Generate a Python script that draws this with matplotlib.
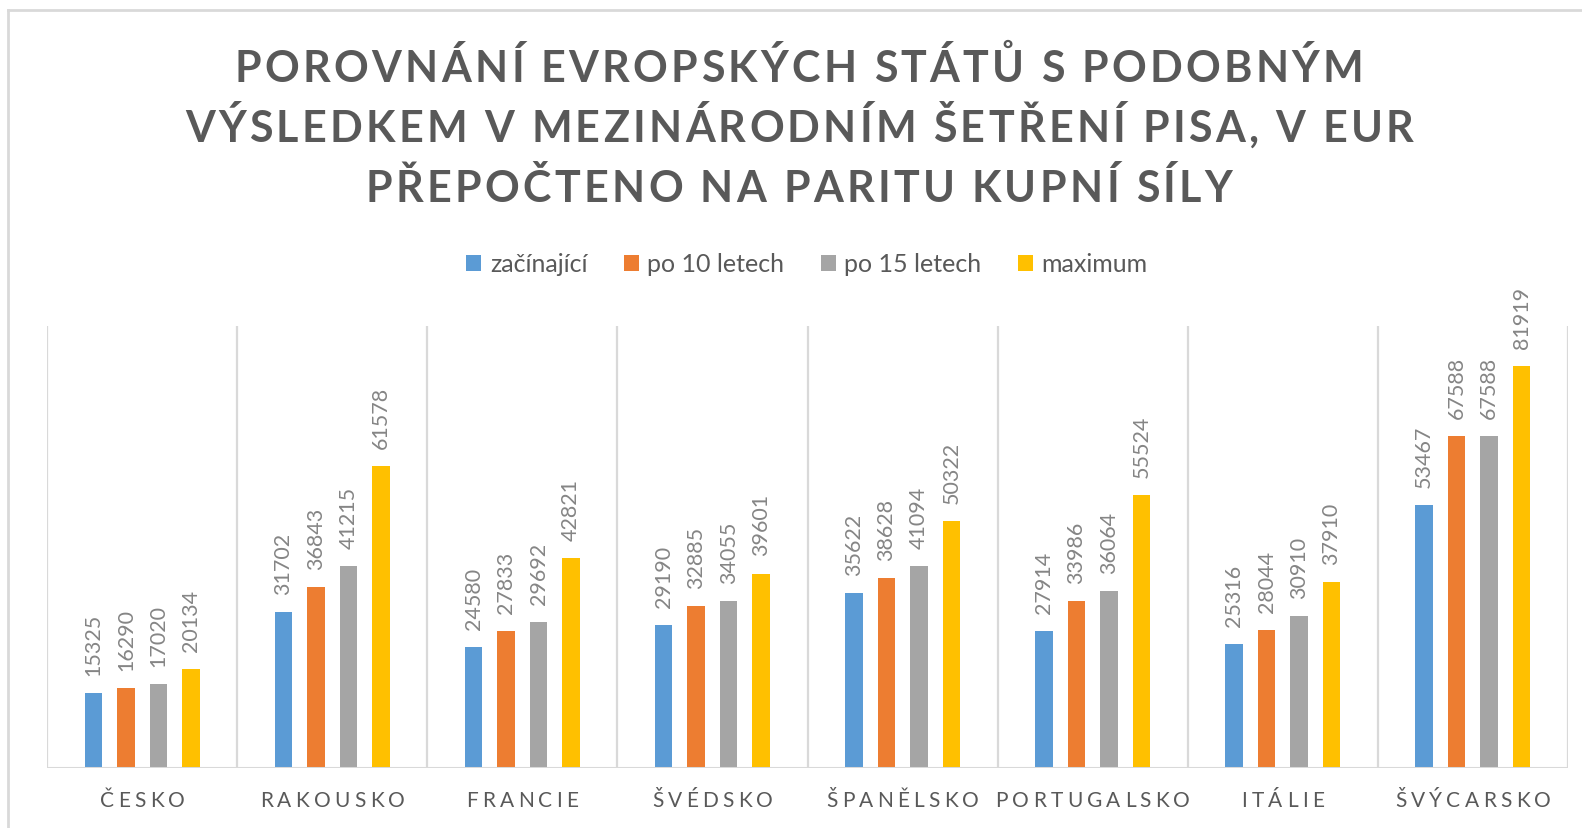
import numpy as np
import matplotlib
matplotlib.use('Agg')
import matplotlib.pyplot as plt
from matplotlib.patches import Patch
from matplotlib.lines import Line2D
from matplotlib.font_manager import FontProperties, findfont, get_font
from matplotlib.transforms import IdentityTransform

# data
countries = ['ČESKO', 'RAKOUSKO', 'FRANCIE', 'ŠVÉDSKO', 'ŠPANĚLSKO',
             'PORTUGALSKO', 'ITÁLIE', 'ŠVÝCARSKO']
series = ['začínající', 'po 10 letech', 'po 15 letech', 'maximum']
zacinajici = [15325, 31702, 24580, 29190, 35622, 27914, 25316, 53467]
po_10 = [16290, 36843, 27833, 32885, 38628, 33986, 28044, 67588]
po_15 = [17020, 41215, 29692, 34055, 41094, 36064, 30910, 67588]
maximum = [20134, 61578, 42821, 39601, 50322, 55524, 37910, 81919]
title_lines = ['POROVNÁNÍ EVROPSKÝCH STÁTŮ S PODOBNÝM',
               'VÝSLEDKEM V MEZINÁRODNÍM ŠETŘENÍ PISA, V EUR',
               'PŘEPOČTENO NA PARITU KUPNÍ SÍLY']

colors = ['#5b9bd5', '#ed7d31', '#a5a5a5', '#ffc000']
text_grey = '#595959'
line_grey = '#d9d9d9'

W, H = 1582, 829
fig = plt.figure(figsize=(W / 100, H / 100), dpi=100)
fig.patch.set_facecolor('white')


def spaced_text(x, y, s, size, spacing, weight='normal', color=text_grey):
    """Draw text centred on x (px) with baseline at y (px from top), extra letter spacing."""
    prop = FontProperties(family='Lato', size=size, weight=weight)
    font = get_font(findfont(prop))
    font.set_size(size, fig.dpi)
    adv = [font.load_char(ord(c)).linearHoriAdvance / 65536 for c in s]
    total = sum(adv) + spacing * (len(s) - 1)
    cx = x - total / 2
    for c, a in zip(s, adv):
        if c != ' ':
            fig.text(cx, H - y, c, fontproperties=prop, color=color,
                     transform=IdentityTransform(), ha='left', va='baseline')
        cx += a + spacing


# chart frame (only top/left visible in the crop)
fig.add_artist(Line2D([8 / W, 1], [1 - 11 / H] * 2, transform=fig.transFigure,
                      color=line_grey, lw=2))
fig.add_artist(Line2D([8 / W] * 2, [0, 1 - 11 / H], transform=fig.transFigure,
                      color=line_grey, lw=2))

# title
for i, line in enumerate(title_lines):
    spaced_text(799, 82 + i * 60, line, 31, 3.3, weight='bold')

# axes
ax = fig.add_axes([47 / W, 1 - 769 / H, (1568 - 47) / W, (769 - 327) / H])
ax.set_xlim(-0.5, len(countries) - 0.5)
ax.set_ylim(0, 90000)
ax.set_axis_off()

ax.vlines(np.arange(-0.5, len(countries)), 0, 90000, color=line_grey, lw=1.6, zorder=1)
ax.axhline(0, color=line_grey, lw=2.2, zorder=3)

x = np.arange(len(countries))
width = 0.092
pitch = 0.171
all_series = [zacinajici, po_10, po_15, maximum]
for k, (vals, col) in enumerate(zip(all_series, colors)):
    xs = x + (k - 1.5) * pitch
    ax.bar(xs, vals, width=width, color=col, zorder=2)
    for xi, v in zip(xs, vals):
        ax.annotate(f'{v}', (xi, v), xytext=(0, 13), textcoords='offset points',
                    rotation=90, ha='center', va='bottom', fontsize=15.5,
                    family='Lato', color='#858585')

# category labels with letter spacing
fig.canvas.draw()
for xi, name in zip(x, countries):
    px = ax.transData.transform((xi, 0))[0]
    spaced_text(px, 807, name, 15, 4.3)

# legend
handles = [Patch(facecolor=c, edgecolor='none') for c in colors]
fig.legend(handles, series, loc='center', bbox_to_anchor=(807 / W, 1 - 265 / H),
           ncol=4, frameon=False, handlelength=0.6, handleheight=0.6,
           handletextpad=0.35, columnspacing=1.45,
           prop=FontProperties(family='Lato', size=18), labelcolor=text_grey)

fig.savefig('out.png', dpi=100)
